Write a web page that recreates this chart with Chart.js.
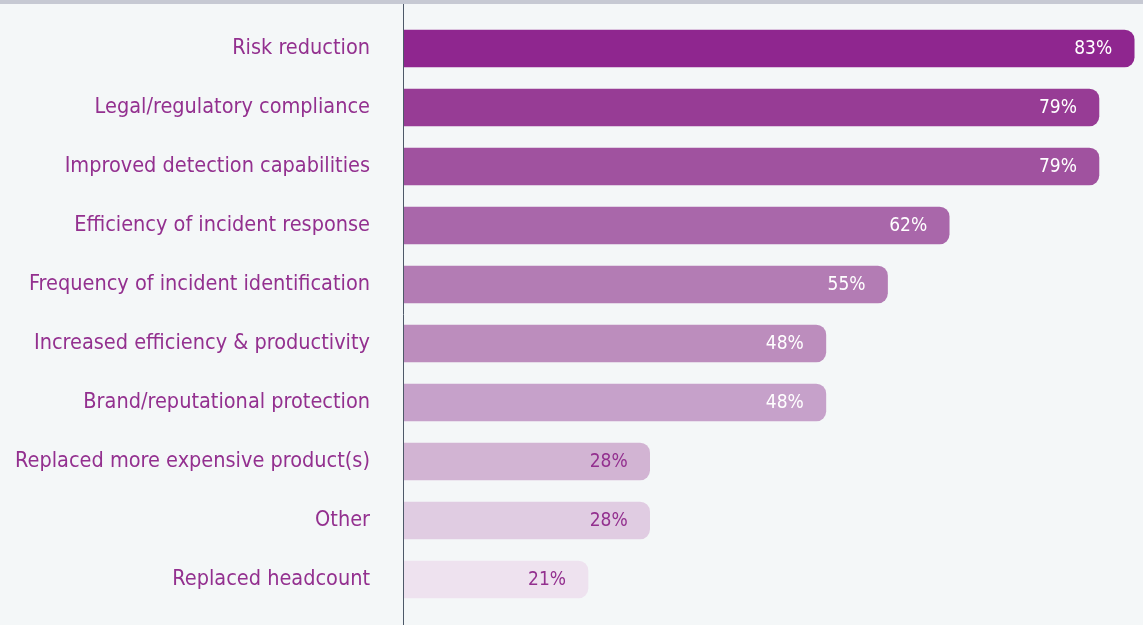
<!DOCTYPE html>
<html>
<head>
<meta charset="utf-8">
<script src="https://cdn.jsdelivr.net/npm/chart.js@4.4.1/dist/chart.umd.min.js"></script>
<style>
  html, body { margin: 0; padding: 0; background: #f4f7f8; }
  #top-band { height: 4px; background: #c6c9d3; }
  #wrap { position: relative; width: 1143px; height: 621px; }
</style>
</head>
<body>
<div id="top-band"></div>
<div id="wrap"><canvas id="chart"></canvas></div>
<script>
const categories = [
    'Risk reduction',
    'Legal/regulatory compliance',
    'Improved detection capabilities',
    'Efficiency of incident response',
    'Frequency of incident identification',
    'Increased efficiency & productivity',
    'Brand/reputational protection',
    'Replaced more expensive product(s)',
    'Other',
    'Replaced headcount'
];
const percents = [83, 79, 79, 62, 55, 48, 48, 28, 28, 21];

const barColors = ['#8f268f', '#973c95', '#a0529f', '#a967aa', '#b37cb4', '#bc8dbd',
    '#c6a1ca', '#d2b4d3', '#e0cce2', '#eee2ef'];
const valueColors = ['#ffffff', '#ffffff', '#ffffff', '#ffffff', '#ffffff', '#ffffff',
    '#ffffff', '#93308f', '#93308f', '#93308f'];

const FONT = '"DejaVu Sans Condensed", "DejaVu Sans", sans-serif';

// value text sits inside the right end of each bar
const valueLabels = {
    id: 'valueLabels',
    afterDatasetsDraw(chart) {
        const ctx = chart.ctx;
        const meta = chart.getDatasetMeta(0);
        ctx.save();
        ctx.font = '19px ' + FONT;
        ctx.textAlign = 'right';
        ctx.textBaseline = 'middle';
        meta.data.forEach((bar, i) => {
            ctx.fillStyle = valueColors[i];
            ctx.fillText(percents[i] + '%', bar.x - 22, bar.y + 1);
        });
        ctx.restore();
    }
};

// vertical axis line runs the full height of the canvas
const axisLine = {
    id: 'axisLine',
    afterDraw(chart) {
        const ctx = chart.ctx;
        const x = Math.round(chart.scales.x.getPixelForValue(0)) + 0.5;
        ctx.save();
        ctx.strokeStyle = '#4d5868';
        ctx.lineWidth = 1;
        ctx.beginPath();
        ctx.moveTo(x, 0);
        ctx.lineTo(x, chart.height);
        ctx.stroke();
        ctx.restore();
    }
};

new Chart(document.getElementById('chart'), {
    type: 'bar',
    data: {
        labels: categories,
        datasets: [{
            data: percents,
            backgroundColor: barColors,
            borderRadius: 10,
            borderSkipped: 'start',
            barThickness: 37
        }]
    },
    options: {
        indexAxis: 'y',
        responsive: true,
        maintainAspectRatio: false,
        animation: false,
        layout: { padding: { top: 15, bottom: 16, left: 0, right: 0 } },
        plugins: { legend: { display: false }, tooltip: { enabled: false } },
        scales: {
            x: { display: false, min: 0, max: 84 },
            y: {
                afterFit(scale) {
                    scale.width = 403;
                    // tick padding should not push the bars away from top/bottom
                    scale.paddingTop = 0;
                    scale.paddingBottom = 0;
                },
                grid: { display: false, drawTicks: false },
                border: { display: false },
                ticks: {
                    color: '#93308f',
                    padding: 33,
                    font: { family: FONT, size: 21.5 }
                }
            }
        }
    },
    plugins: [valueLabels, axisLine]
});
</script>
</body>
</html>
